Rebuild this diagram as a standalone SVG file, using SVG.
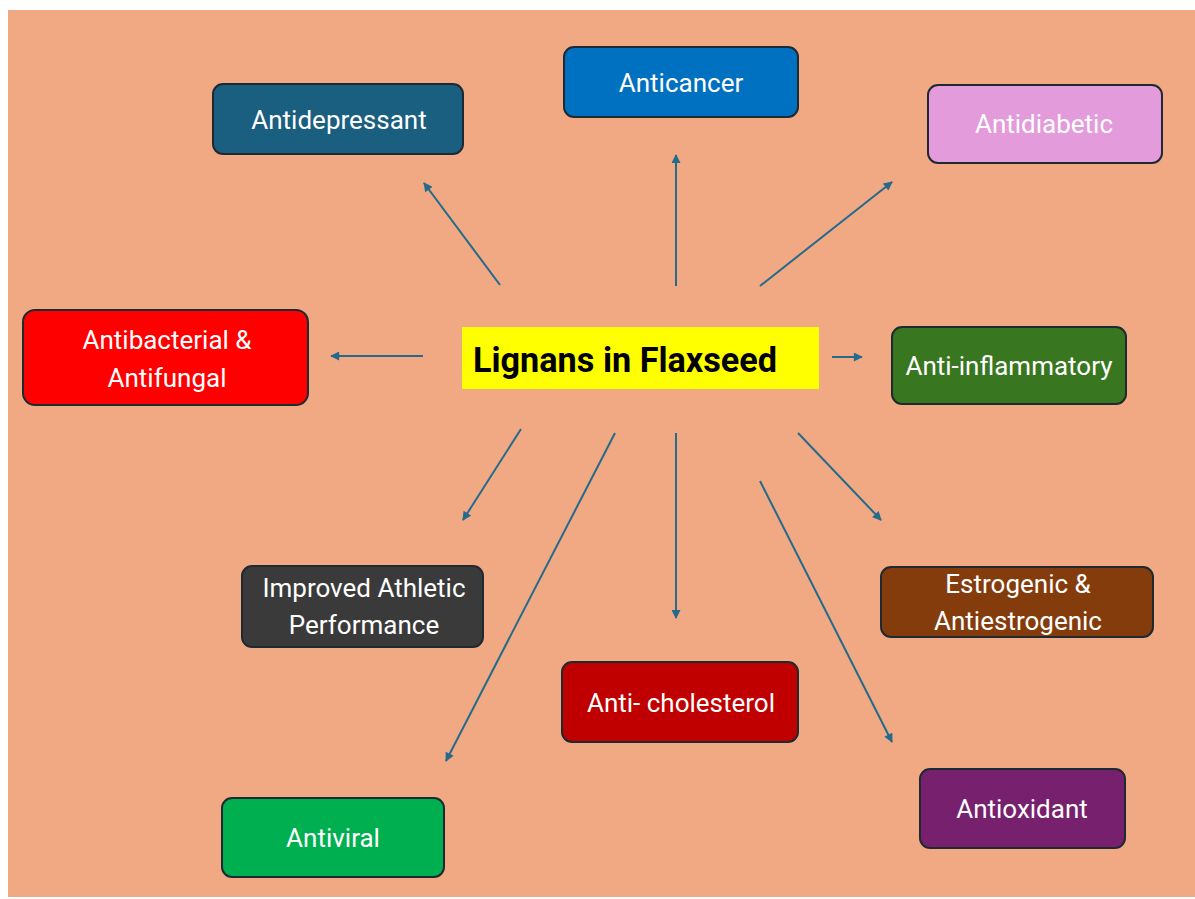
<svg xmlns="http://www.w3.org/2000/svg" width="1195" height="899" viewBox="0 0 1195 899">
<style>
.box{stroke:#1E2A32;stroke-width:2}
.lbl{font-family:Roboto,"Liberation Sans",sans-serif;font-size:26px;fill:#FFFFFF;text-anchor:middle}
.title{font-family:Roboto,"Liberation Sans",sans-serif;font-size:35px;font-weight:bold;fill:#000000}
.conn{stroke:#246A8C;stroke-width:2;fill:none;marker-end:url(#ah)}
</style>
<defs>
<marker id="ah" viewBox="0 0 10 10" refX="9" refY="5" markerWidth="10" markerHeight="9" markerUnits="userSpaceOnUse" orient="auto">
<path d="M0,0 L10,5 L0,10 z" fill="#246A8C"/>
</marker>
</defs>
<rect x="0" y="0" width="1195" height="899" fill="#FFFFFF"/>
<rect x="8" y="10" width="1187" height="887" fill="#F1A983"/>

<g id="connectors">
<line class="conn" x1="500" y1="285" x2="424" y2="183"/>
<line class="conn" x1="676" y1="286" x2="676" y2="155"/>
<line class="conn" x1="760" y1="286" x2="892" y2="182"/>
<line class="conn" x1="423" y1="356" x2="331" y2="356"/>
<line class="conn" x1="832" y1="357" x2="862" y2="357"/>
<line class="conn" x1="521" y1="429" x2="463" y2="520"/>
<line class="conn" x1="615" y1="433" x2="446" y2="761"/>
<line class="conn" x1="676" y1="433" x2="676" y2="618"/>
<line class="conn" x1="798" y1="433" x2="881" y2="520"/>
<line class="conn" x1="760" y1="481" x2="892" y2="742"/>
</g>

<g id="center">
<rect x="462" y="327" width="357" height="62" fill="#FFFF00"/>
<text class="title" x="473" y="372" textLength="304" lengthAdjust="spacingAndGlyphs">Lignans in Flaxseed</text>
</g>

<g id="antidepressant">
<rect class="box" x="213" y="84" width="250" height="70" rx="10" fill="#1A5E80"/>
<text class="lbl" x="339" y="129">Antidepressant</text>
</g>

<g id="anticancer">
<rect class="box" x="564" y="47" width="234" height="70" rx="10" fill="#0070C0"/>
<text class="lbl" x="681" y="92">Anticancer</text>
</g>

<g id="antidiabetic">
<rect class="box" x="928" y="85" width="234" height="78" rx="10" fill="#E39BDB"/>
<text class="lbl" x="1044" y="133">Antidiabetic</text>
</g>

<g id="antibacterial">
<rect class="box" x="23" y="310" width="285" height="95" rx="12" fill="#FF0000"/>
<text class="lbl" x="167" y="349">Antibacterial &amp;</text>
<text class="lbl" x="167" y="387">Antifungal</text>
</g>

<g id="antiinflammatory">
<rect class="box" x="892" y="327" width="234" height="77" rx="10" fill="#38761F"/>
<text class="lbl" x="1009" y="375">Anti-inflammatory</text>
</g>

<g id="athletic">
<rect class="box" x="242" y="566" width="241" height="81" rx="10" fill="#3A3A3A"/>
<text class="lbl" x="364" y="597">Improved Athletic</text>
<text class="lbl" x="364" y="634">Performance</text>
</g>

<g id="estrogenic">
<rect class="box" x="881" y="567" width="272" height="70" rx="10" fill="#843C0C"/>
<text class="lbl" x="1018" y="593">Estrogenic &amp;</text>
<text class="lbl" x="1018" y="630">Antiestrogenic</text>
</g>

<g id="cholesterol">
<rect class="box" x="562" y="662" width="236" height="80" rx="10" fill="#C00000"/>
<text class="lbl" x="681" y="712">Anti- cholesterol</text>
</g>

<g id="antiviral">
<rect class="box" x="222" y="798" width="222" height="79" rx="10" fill="#00B050"/>
<text class="lbl" x="333" y="847">Antiviral</text>
</g>

<g id="antioxidant">
<rect class="box" x="920" y="769" width="205" height="79" rx="10" fill="#76206E"/>
<text class="lbl" x="1022" y="818">Antioxidant</text>
</g>
</svg>
